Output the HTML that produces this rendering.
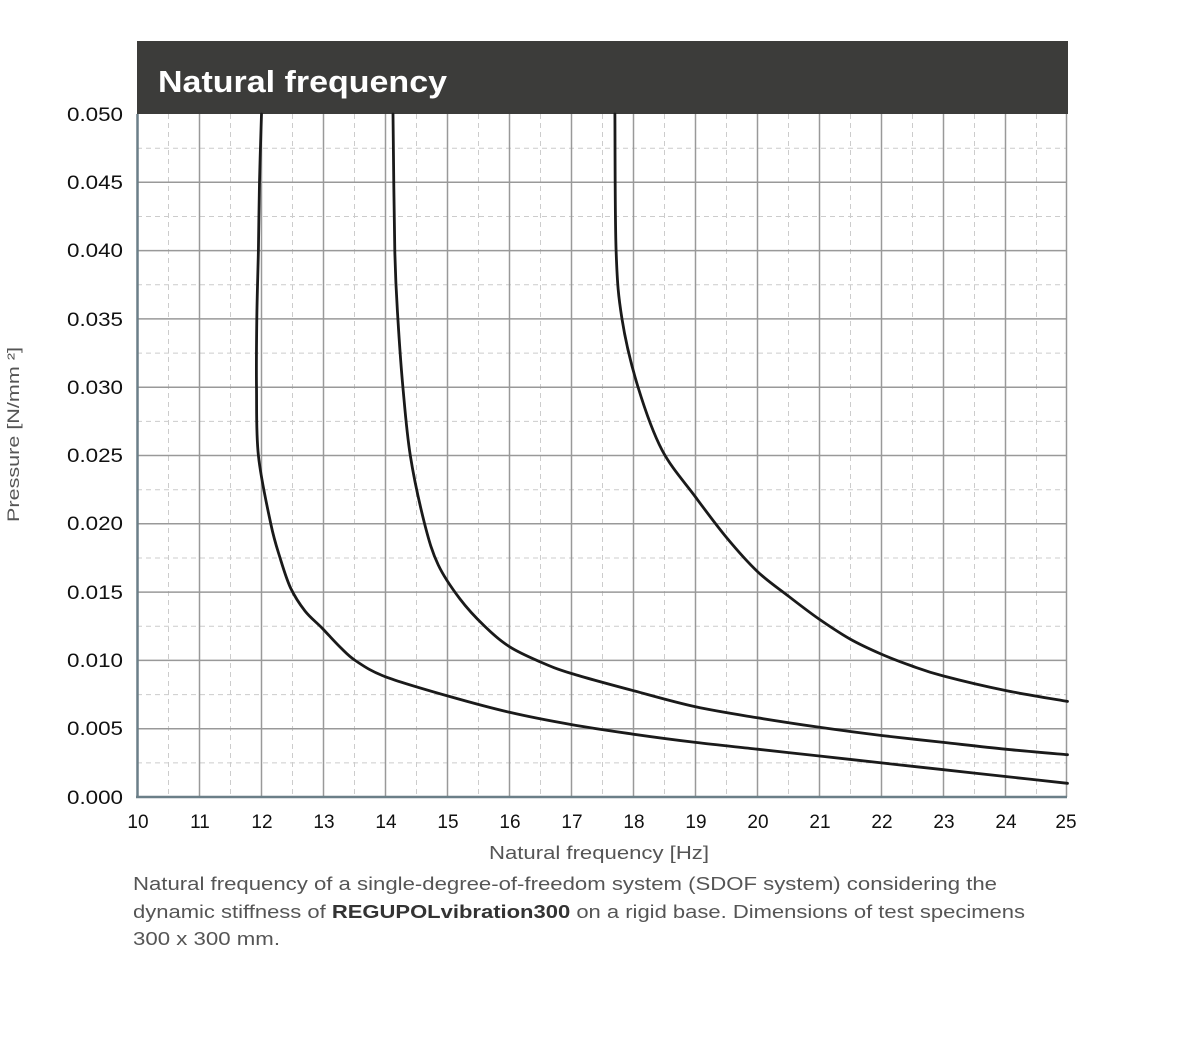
<!DOCTYPE html>
<html><head><meta charset="utf-8"><style>
html,body{margin:0;padding:0;background:#fff;}
body{width:1201px;height:1051px;overflow:hidden;font-family:"Liberation Sans",sans-serif;}
</style></head><body>
<svg width="1201" height="1051" viewBox="0 0 1201 1051" xmlns="http://www.w3.org/2000/svg" font-family="Liberation Sans, sans-serif">
<rect x="137" y="41" width="931" height="73" fill="#3c3c3a"/>
<text x="158" y="92" fill="#fff" font-size="31" font-weight="bold" textLength="289" lengthAdjust="spacingAndGlyphs">Natural frequency</text>
<g stroke="#ccc" stroke-width="1" stroke-dasharray="5,4">
<line x1="168.5" y1="114" x2="168.5" y2="797"/><line x1="230.5" y1="114" x2="230.5" y2="797"/><line x1="292.5" y1="114" x2="292.5" y2="797"/><line x1="354.5" y1="114" x2="354.5" y2="797"/><line x1="416.5" y1="114" x2="416.5" y2="797"/><line x1="478.5" y1="114" x2="478.5" y2="797"/><line x1="540.5" y1="114" x2="540.5" y2="797"/><line x1="602.5" y1="114" x2="602.5" y2="797"/><line x1="664.5" y1="114" x2="664.5" y2="797"/><line x1="726.5" y1="114" x2="726.5" y2="797"/><line x1="788.5" y1="114" x2="788.5" y2="797"/><line x1="850.5" y1="114" x2="850.5" y2="797"/><line x1="912.5" y1="114" x2="912.5" y2="797"/><line x1="974.5" y1="114" x2="974.5" y2="797"/><line x1="1036.5" y1="114" x2="1036.5" y2="797"/>
<line x1="137" y1="148.2" x2="1067" y2="148.2"/><line x1="137" y1="216.5" x2="1067" y2="216.5"/><line x1="137" y1="284.8" x2="1067" y2="284.8"/><line x1="137" y1="353.1" x2="1067" y2="353.1"/><line x1="137" y1="421.4" x2="1067" y2="421.4"/><line x1="137" y1="489.7" x2="1067" y2="489.7"/><line x1="137" y1="558" x2="1067" y2="558"/><line x1="137" y1="626.3" x2="1067" y2="626.3"/><line x1="137" y1="694.6" x2="1067" y2="694.6"/><line x1="137" y1="762.9" x2="1067" y2="762.9"/>
</g>
<g stroke="#999" stroke-width="1.5">
<line x1="199.5" y1="114" x2="199.5" y2="797"/><line x1="261.5" y1="114" x2="261.5" y2="797"/><line x1="323.5" y1="114" x2="323.5" y2="797"/><line x1="385.5" y1="114" x2="385.5" y2="797"/><line x1="447.5" y1="114" x2="447.5" y2="797"/><line x1="509.5" y1="114" x2="509.5" y2="797"/><line x1="571.5" y1="114" x2="571.5" y2="797"/><line x1="633.5" y1="114" x2="633.5" y2="797"/><line x1="695.5" y1="114" x2="695.5" y2="797"/><line x1="757.5" y1="114" x2="757.5" y2="797"/><line x1="819.5" y1="114" x2="819.5" y2="797"/><line x1="881.5" y1="114" x2="881.5" y2="797"/><line x1="943.5" y1="114" x2="943.5" y2="797"/><line x1="1005.5" y1="114" x2="1005.5" y2="797"/><line x1="1066.5" y1="114" x2="1066.5" y2="797"/>
<line x1="137" y1="182.3" x2="1067" y2="182.3"/><line x1="137" y1="250.6" x2="1067" y2="250.6"/><line x1="137" y1="318.9" x2="1067" y2="318.9"/><line x1="137" y1="387.2" x2="1067" y2="387.2"/><line x1="137" y1="455.5" x2="1067" y2="455.5"/><line x1="137" y1="523.8" x2="1067" y2="523.8"/><line x1="137" y1="592.1" x2="1067" y2="592.1"/><line x1="137" y1="660.4" x2="1067" y2="660.4"/><line x1="137" y1="728.7" x2="1067" y2="728.7"/>
</g>
<g stroke="#6b7f88" stroke-width="2.5" fill="none">
<line x1="137.5" y1="114" x2="137.5" y2="798"/><line x1="136" y1="797" x2="1067" y2="797"/>
</g>
<g id="curves" fill="none" stroke="#1a1a1a" stroke-width="2.8" stroke-linejoin="round" stroke-linecap="round">
<path data-p="261.5,114 259.5,182 258.4,250.6 256.8,319 256.5,387.2 258.4,455.5 270.8,523.8 280.1,558 290.6,588 305,611 322,628 340,647 356,661 385.5,676.8 447.5,695.9 509.5,712.3 571.5,724.6 633.5,734.2 695.5,742.4 757.5,749.2 819.5,756 881.5,762.9 943.5,769.7 1005.5,776.5 1067.5,783.3"/>
<path data-p="393,114 394.8,250.6 397.9,319 402.9,387.2 410.3,455.5 424.6,523.8 438.2,564.8 460,599 484.7,626.3 509.5,646.7 540.5,662 571.5,673.5 633.5,690.7 695.5,706.8 757.5,717.8 819.5,727.3 881.5,735.5 943.5,742.4 1005.5,749.2 1067.5,754.7"/>
<path data-p="614.9,114 616.1,250.6 622,319 638,387 662,450 695.5,497 726.5,537.5 757.5,571.6 788.5,596.2 819.5,619.4 850,639 881,654 912,666 943.5,676 1005.5,690.5 1067.5,701.4"/>
</g>
<g font-size="19" fill="#111" text-anchor="end">
<text x="123" y="121" textLength="56" lengthAdjust="spacingAndGlyphs">0.050</text><text x="123" y="189" textLength="56" lengthAdjust="spacingAndGlyphs">0.045</text><text x="123" y="257" textLength="56" lengthAdjust="spacingAndGlyphs">0.040</text><text x="123" y="326" textLength="56" lengthAdjust="spacingAndGlyphs">0.035</text><text x="123" y="394" textLength="56" lengthAdjust="spacingAndGlyphs">0.030</text><text x="123" y="462" textLength="56" lengthAdjust="spacingAndGlyphs">0.025</text><text x="123" y="530" textLength="56" lengthAdjust="spacingAndGlyphs">0.020</text><text x="123" y="599" textLength="56" lengthAdjust="spacingAndGlyphs">0.015</text><text x="123" y="667" textLength="56" lengthAdjust="spacingAndGlyphs">0.010</text><text x="123" y="735" textLength="56" lengthAdjust="spacingAndGlyphs">0.005</text><text x="123" y="804" textLength="56" lengthAdjust="spacingAndGlyphs">0.000</text>
</g>
<g font-size="19" fill="#111" text-anchor="middle">
<text x="138" y="828">10</text><text x="200" y="828">11</text><text x="262" y="828">12</text><text x="324" y="828">13</text><text x="386" y="828">14</text><text x="448" y="828">15</text><text x="510" y="828">16</text><text x="572" y="828">17</text><text x="634" y="828">18</text><text x="696" y="828">19</text><text x="758" y="828">20</text><text x="820" y="828">21</text><text x="882" y="828">22</text><text x="944" y="828">23</text><text x="1006" y="828">24</text><text x="1066" y="828">25</text>
</g>
<text x="489" y="859" font-size="18" fill="#555" textLength="220" lengthAdjust="spacingAndGlyphs">Natural frequency [Hz]</text>
<text transform="translate(19,522) rotate(-90)" font-size="17" fill="#555" textLength="175" lengthAdjust="spacingAndGlyphs">Pressure [N/mm ²]</text>
<g font-size="18" fill="#555">
<text x="133" y="890" textLength="864" lengthAdjust="spacingAndGlyphs">Natural frequency of a single-degree-of-freedom system (SDOF system) considering the</text>
<text x="133" y="918" textLength="892" lengthAdjust="spacingAndGlyphs">dynamic stiffness of <tspan font-weight="bold" fill="#333">REGUPOLvibration300</tspan> on a rigid base. Dimensions of test specimens</text>
<text x="133" y="945" textLength="147" lengthAdjust="spacingAndGlyphs">300 x 300 mm.</text>
</g>
</svg>
<script>
document.querySelectorAll('#curves path').forEach(function(p){
  var pts=p.getAttribute('data-p').trim().split(/\s+/).map(function(s){return s.split(',').map(Number);});
  var d='M'+pts[0][0]+','+pts[0][1];
  for(var i=0;i<pts.length-1;i++){
    var p0=pts[i-1]||pts[i],p1=pts[i],p2=pts[i+1],p3=pts[i+2]||p2;
    var c1x=p1[0]+(p2[0]-p0[0])/6,c1y=p1[1]+(p2[1]-p0[1])/6;
    var c2x=p2[0]-(p3[0]-p1[0])/6,c2y=p2[1]-(p3[1]-p1[1])/6;
    d+=' C'+c1x.toFixed(1)+','+c1y.toFixed(1)+' '+c2x.toFixed(1)+','+c2y.toFixed(1)+' '+p2[0]+','+p2[1];
  }
  p.setAttribute('d',d);p.removeAttribute('data-p');
});
</script>
</body></html>
